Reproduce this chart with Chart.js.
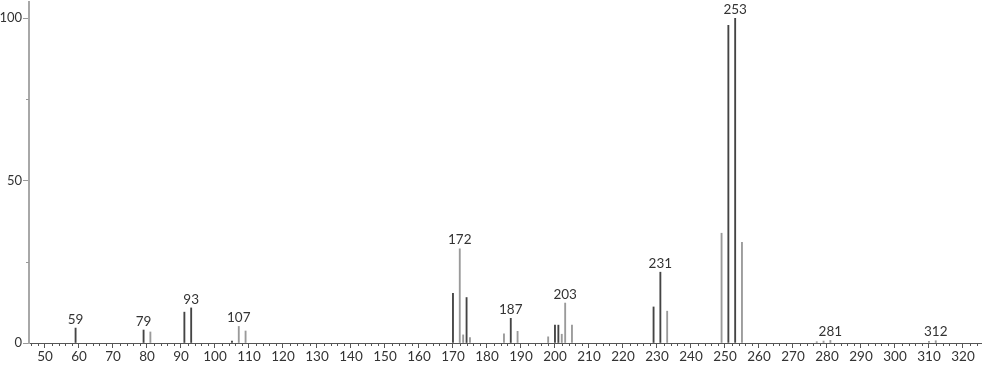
<!DOCTYPE html>
<html>
<head>
<meta charset="utf-8">
<script src="https://cdn.jsdelivr.net/npm/chart.js@4"></script>
<style>
  body { margin: 0; background: #fff; }
  canvas { display: block; }
</style>
</head>
<body>
<canvas id="spectrum" width="982" height="365"></canvas>
<script>
// main peaks (dark) and isotope / minor peaks (gray), m/z vs relative intensity
const darkMz = [59, 79, 91, 93, 105, 170, 174, 187, 200, 201, 229, 231, 251, 253];
const darkInt = [4.6, 4.0, 9.5, 10.8, 0.6, 15.3, 14.0, 7.6, 5.5, 5.5, 11.1, 21.8, 97.8, 100];
const grayMz = [81, 107, 109, 172, 173, 175, 185, 189, 198, 202, 203, 205, 233, 249, 255, 277, 279, 281, 310, 312];
const grayInt = [3.4, 5.1, 3.7, 29.0, 2.5, 1.7, 2.8, 3.6, 1.9, 2.7, 12.3, 5.5, 9.8, 33.8, 31.0, 0.4, 0.6, 0.8, 0.5, 0.7];
const peakLabels = [59, 79, 93, 107, 172, 187, 203, 231, 253, 281, 312];
const yTicks = [0, 50, 100];

const FONT = "Lato";

function toPoints(mz, ints) {
  return mz.map((m, i) => ({ x: m, y: ints[i] }));
}

function intensityOf(m) {
  let i = darkMz.indexOf(m);
  if (i >= 0) return darkInt[i];
  i = grayMz.indexOf(m);
  return i >= 0 ? grayInt[i] : 0;
}

// minor tick marks + peak labels
const extras = {
  id: "extras",
  afterDraw(chart) {
    const ctx = chart.ctx;
    const x = chart.scales.x;
    const y = chart.scales.y;
    const area = chart.chartArea;
    ctx.save();
    ctx.strokeStyle = "#555";
    ctx.lineWidth = 1;
    for (let m = 46; m <= 324; m += 2) {
      if (m % 10 === 0) continue;
      const px = Math.round(x.getPixelForValue(m)) + 0.5;
      ctx.beginPath();
      ctx.moveTo(px, area.bottom);
      ctx.lineTo(px, area.bottom + 3);
      ctx.stroke();
    }
    ctx.strokeStyle = "#999";
    [25, 75].forEach((v) => {
      const py = Math.round(y.getPixelForValue(v)) + 0.5;
      ctx.beginPath();
      ctx.moveTo(area.left - 3, py);
      ctx.lineTo(area.left, py);
      ctx.stroke();
    });
    ctx.fillStyle = "#333";
    ctx.font = "13.5px " + FONT;
    ctx.textAlign = "center";
    ctx.textBaseline = "bottom";
    peakLabels.forEach((m) => {
      const px = x.getPixelForValue(m);
      const py = y.getPixelForValue(intensityOf(m));
      ctx.fillText(String(m), px, py - 2);
    });
    ctx.restore();
  },
};

new Chart(document.getElementById("spectrum"), {
  type: "bar",
  data: {
    datasets: [
      {
        label: "main",
        data: toPoints(darkMz, darkInt),
        backgroundColor: "#444",
        barThickness: 1.2,
        grouped: false,
      },
      {
        label: "minor",
        data: toPoints(grayMz, grayInt),
        backgroundColor: "#9a9a9a",
        barThickness: 1.2,
        grouped: false,
      },
    ],
  },
  options: {
    responsive: false,
    animation: false,
    layout: { padding: { top: 2, right: 0, left: 0, bottom: 0 } },
    plugins: { legend: { display: false }, tooltip: { enabled: false } },
    scales: {
      x: {
        type: "linear",
        offset: false,
        min: 45.3,
        max: 325.6,
        afterFit: (scale) => {
          scale.height = 22;
          scale.paddingLeft = 0;
          scale.paddingRight = 0;
        },
        afterBuildTicks: (scale) => {
          const t = [];
          for (let v = 50; v <= 320; v += 10) t.push({ value: v });
          scale.ticks = t;
        },
        border: { display: true, color: "#555", width: 1 },
        grid: { drawOnChartArea: false, offset: false, tickLength: 5, color: "#555" },
        ticks: {
          color: "#333",
          padding: 1,
          maxRotation: 0,
          autoSkip: false,
          font: { family: FONT, size: 13.5 },
        },
      },
      y: {
        min: 0,
        max: 105,
        afterFit: (scale) => {
          scale.width = 29;
          scale.paddingTop = 0;
          scale.paddingBottom = 0;
        },
        afterBuildTicks: (scale) => {
          scale.ticks = yTicks.map((v) => ({ value: v }));
        },
        border: { display: true, color: "#a8a8a8", width: 2 },
        grid: { drawOnChartArea: false, tickLength: 6, color: "#999" },
        ticks: {
          color: "#333",
          padding: 1,
          font: { family: FONT, size: 13 },
        },
      },
    },
  },
  plugins: [extras],
});
</script>
</body>
</html>
